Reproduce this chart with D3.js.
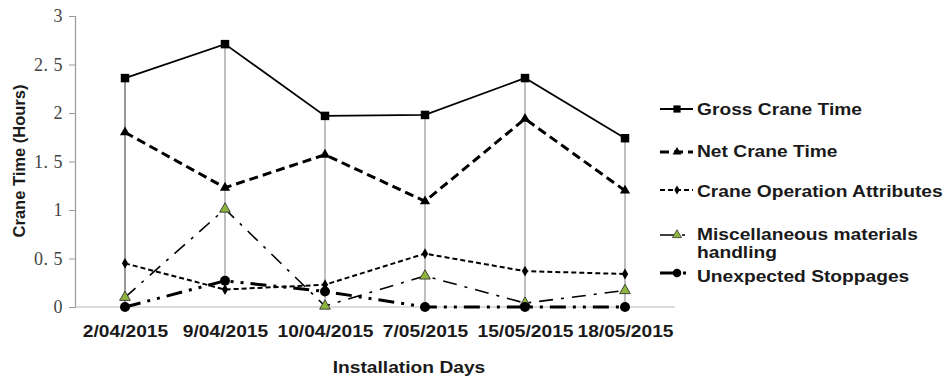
<!DOCTYPE html>
<html>
<head>
<meta charset="utf-8">
<script src="https://cdn.jsdelivr.net/npm/d3@7"></script>
<style>
  html, body { margin: 0; padding: 0; background: #fff; }
  svg { display: block; }
  .lbl { font-family: "Liberation Sans", Arial, sans-serif; font-weight: bold; fill: #1a1a1a; }
  .ylab { font-family: "Liberation Serif", "DejaVu Serif", serif; font-size: 18px; fill: #444; letter-spacing: 0.5px; }
</style>
</head>
<body>
<svg id="chart" width="948" height="378"></svg>
<script>
// Installation days (x categories)
const categories = ["2/04/2015", "9/04/2015", "10/04/2015", "7/05/2015", "15/05/2015", "18/05/2015"];

// Crane time per day, hours
const grossCraneTime   = [2.36, 2.71, 1.97, 1.98, 2.36, 1.74];
const netCraneTime     = [1.80, 1.23, 1.57, 1.09, 1.94, 1.20];
const craneOperation   = [0.45, 0.18, 0.23, 0.55, 0.37, 0.34];
const miscMaterials    = [0.10, 1.01, 0.01, 0.32, 0.04, 0.17];
const unexpectedStops  = [0.00, 0.27, 0.16, 0.00, 0.00, 0.00];

const yTicks = [0, 0.5, 1, 1.5, 2, 2.5, 3];
const yTickLabels = ["0", "0. 5", "1", "1. 5", "2", "2. 5", "3"];

const seriesNames = [
  ["Gross Crane Time"],
  ["Net Crane Time"],
  ["Crane Operation Attributes"],
  ["Miscellaneous materials", "handling"],
  ["Unexpected Stoppages"]
];

const series = [
  { name: seriesNames[0], values: grossCraneTime,  width: 1.8, dash: null,               marker: "square" },
  { name: seriesNames[1], values: netCraneTime,    width: 3,   dash: "9,5",              marker: "triangle" },
  { name: seriesNames[2], values: craneOperation,  width: 2,   dash: "5,3",              marker: "diamond" },
  { name: seriesNames[3], values: miscMaterials,   width: 1.6, dash: "14,8,3,8",         marker: "triangleGreen" },
  { name: seriesNames[4], values: unexpectedStops, width: 3,   dash: "16,7,3,7,3,7",     marker: "circle" }
];

const svg = d3.select("#chart");

const x = d3.scalePoint().domain(categories).range([75, 675]).padding(0.5);
const y = d3.scaleLinear().domain([0, 3]).range([307, 16]);

// High-low lines: from the highest to the lowest series value on each day
const hl = svg.append("g");
categories.forEach((c, i) => {
  const vals = series.map(s => s.values[i]);
  hl.append("line")
    .attr("x1", x(c)).attr("x2", x(c))
    .attr("y1", y(d3.max(vals))).attr("y2", y(d3.min(vals)))
    .attr("stroke", i === 0 ? "#777" : "#aaa")
    .attr("stroke-width", 1.5);
});

// Y axis: line and tick marks from d3.axisLeft, serif labels alongside
const yAxis = svg.append("g")
  .attr("transform", "translate(75,0)")
  .call(d3.axisLeft(y).tickValues(yTicks).tickSize(6).tickFormat(() => ""));
yAxis.select(".domain").attr("stroke", "#999").attr("stroke-width", 1.2);
yAxis.selectAll(".tick line").attr("stroke", "#999");

svg.append("g")
  .selectAll("text")
  .data(yTicks)
  .join("text")
  .attr("class", "ylab")
  .attr("x", 63)
  .attr("y", d => y(d))
  .attr("dy", "0.36em")
  .attr("text-anchor", "end")
  .text((d, i) => yTickLabels[i]);

// X axis
const xAxis = svg.append("g")
  .attr("transform", "translate(0,307)")
  .call(d3.axisBottom(x).tickSize(0).tickPadding(0));
xAxis.attr("font-family", null).attr("font-size", null);
xAxis.select(".domain").attr("stroke", "#bbb").attr("stroke-width", 1.2).attr("d", "M75,0H675");
xAxis.selectAll(".tick text")
  .attr("class", "lbl")
  .attr("fill", null)
  .attr("y", null).attr("dy", null)
  .attr("style", "font-size:17px")
  .attr("text-anchor", "middle")
  .attr("transform", "translate(0,30) scale(1.13,1)");

// Marker drawing
const sym = {
  square: d3.symbol().type(d3.symbolSquare).size(72),
  triangle: d3.symbol().type(d3.symbolTriangle).size(45),
  triangleGreen: d3.symbol().type(d3.symbolTriangle).size(50),
  diamond: d3.symbol().type(d3.symbolDiamond).size(34),
  circle: d3.symbol().type(d3.symbolCircle).size(78)
};
function drawMarker(g, kind, cx, cy, scale) {
  const p = g.append("path")
    .attr("d", sym[kind]())
    .attr("transform", `translate(${cx},${cy}) scale(${scale || 1})`);
  if (kind === "triangleGreen") {
    p.attr("fill", "#8db53c").attr("stroke", "#333").attr("stroke-width", 0.9);
  } else {
    p.attr("fill", "#000");
  }
}

// Series lines and markers
const line = d3.line().x((d, i) => x(categories[i])).y(d => y(d));
series.forEach(s => {
  const g = svg.append("g");
  g.append("path")
    .datum(s.values)
    .attr("d", line)
    .attr("fill", "none")
    .attr("stroke", "#000")
    .attr("stroke-width", s.width)
    .attr("stroke-dasharray", s.dash);
  s.values.forEach((v, i) => drawMarker(g, s.marker, x(categories[i]), y(v)));
});

// Legend
const legendY = [109, 152, 190, 235, 273];
const textBase = [115, 157, 197, 240, 282];
const lg = svg.append("g");
series.forEach((s, k) => {
  const cy = legendY[k];
  lg.append("line")
    .attr("x1", 660).attr("x2", 693).attr("y1", cy).attr("y2", cy)
    .attr("stroke", "#000").attr("stroke-width", s.width)
    .attr("stroke-dasharray", s.dash);
  drawMarker(lg, s.marker, 677, cy, 0.85);
  s.name.forEach((t, j) => {
    lg.append("text")
      .attr("class", "lbl")
      .attr("style", "font-size:17px")
      .attr("transform", `translate(697,${textBase[k] + j * 18}) scale(1.13,1)`)
      .text(t);
  });
});

// Axis titles
svg.append("text")
  .attr("class", "lbl")
  .attr("style", "font-size:17px")
  .attr("text-anchor", "middle")
  .attr("transform", "translate(409,373) scale(1.13,1)")
  .text("Installation Days");

svg.append("text")
  .attr("class", "lbl")
  .attr("style", "font-size:16.5px")
  .attr("text-anchor", "middle")
  .attr("transform", "translate(25,161) rotate(-90)")
  .text("Crane Time (Hours)");
</script>
</body>
</html>
